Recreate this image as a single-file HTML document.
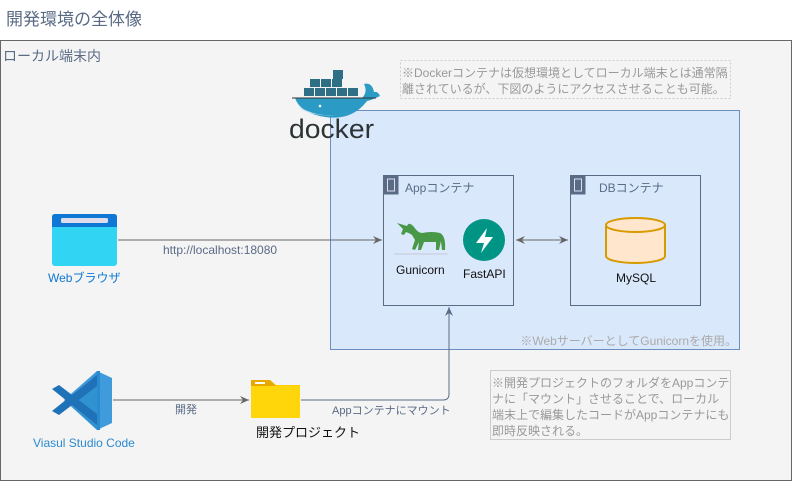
<!DOCTYPE html>
<html><head><meta charset="utf-8"><style>
html,body{margin:0;padding:0;background:#fff;}
svg{display:block;font-family:"Liberation Sans","Noto Sans CJK JP",sans-serif;}
</style></head><body>
<svg width="792" height="482" viewBox="0 0 792 482" xmlns="http://www.w3.org/2000/svg">
<defs>
<marker id="ar" markerWidth="10" markerHeight="10" refX="9" refY="5" orient="auto" markerUnits="userSpaceOnUse"><path d="M0,1 L9,5 L0,9 L3,5 Z" fill="#666"/></marker>
<marker id="arb" markerWidth="10" markerHeight="10" refX="9" refY="5" orient="auto" markerUnits="userSpaceOnUse"><path d="M0,1 L9,5 L0,9 L3,5 Z" fill="#5a6b86"/></marker>
<marker id="as" markerWidth="10" markerHeight="10" refX="1" refY="5" orient="auto" markerUnits="userSpaceOnUse"><path d="M10,1 L1,5 L10,9 L7,5 Z" fill="#666"/></marker>
</defs>
<text x="6" y="25" font-size="17" fill="#5a6b86">開発環境の全体像</text>
<rect x="0.5" y="40.5" width="791" height="440" fill="#f4f4f4" stroke="#666"/>
<text x="3" y="61" font-size="14" fill="#5a6b86">ローカル端末内</text>

<!-- docker area -->
<rect x="330.5" y="110.5" width="409" height="239" fill="#dae8fc" stroke="#6c8ebf"/>
<rect x="400.5" y="60.5" width="330" height="38" fill="none" stroke="#ccc" stroke-dasharray="2,2"/>
<text x="402" y="77" font-size="12" fill="#999">※Dockerコンテナは仮想環境としてローカル端末とは通常隔</text>
<text x="402" y="93" font-size="12" fill="#999">離されているが、下図のようにアクセスさせることも可能。</text>

<!-- docker logo -->
<g>
<rect x="333" y="70" width="10" height="9" fill="#2e6f86"/>
<rect x="310" y="79" width="10" height="8" fill="#2e6f86"/><rect x="321" y="79" width="10" height="8" fill="#2e6f86"/><rect x="332" y="79" width="10" height="8" fill="#2e6f86"/>
<rect x="304" y="88" width="10" height="8" fill="#2e6f86"/><rect x="315" y="88" width="10" height="8" fill="#2e6f86"/><rect x="326" y="88" width="10" height="8" fill="#2e6f86"/><rect x="337" y="88" width="10" height="8" fill="#2e6f86"/><rect x="348" y="88" width="10" height="8" fill="#2e6f86"/>
<path d="M295,98 L362,98 Q368,92 364,84 Q372,82 374,92 Q378,91 380,96 Q372,100 367,101 Q352,121 325,117 Q300,113 295,98 Z" fill="#2b9bc6"/>
<line x1="292" y1="98" x2="376" y2="98" stroke="#333" stroke-width="1"/>
<path d="M298,106 Q315,117 337,115 Q318,117 302,110 Z" fill="#c6e4ef"/>
<circle cx="320" cy="106" r="1.3" fill="#fff"/>
<text x="289" y="138" font-size="27" fill="#2d3436" textLength="85" lengthAdjust="spacingAndGlyphs">docker</text>
</g>

<!-- app container -->
<rect x="383.5" y="175.5" width="130" height="130" fill="none" stroke="#5a6b86"/>
<rect x="383.5" y="175.5" width="15" height="19" fill="#5a6b86"/>
<rect x="387.5" y="179" width="7" height="12" fill="none" stroke="#dde" stroke-width="1"/>
<text x="405" y="192" font-size="12" fill="#5a6b86">Appコンテナ</text>
<!-- gunicorn -->
<path d="M397,223 L407,226 Q409,221 414,227 Q418,233 422,233 Q432,231 440,233 Q446,236 445,250 L442,250 L441,241 L439,250 L436,250 L436,242 L424,242 L421,250 L418,250 L419,242 L415,250 L412,249 L415,240 L412,235 Q409,233 406,232 L404,235 L401,234 L403,229 Z" fill="#499848"/>
<rect x="394" y="253" width="54" height="2" fill="#ccd" opacity="0.6"/>
<text x="396" y="274" font-size="12" fill="#111">Gunicorn</text>
<!-- fastapi -->
<circle cx="484" cy="240" r="21" fill="#009485"/>
<path d="M487,228 L476,243 L484,243 L481,253 L493,237 L485,237 Z" fill="#fff"/>
<text x="463" y="278" font-size="12" fill="#111">FastAPI</text>

<!-- db container -->
<rect x="570.5" y="175.5" width="130" height="130" fill="none" stroke="#5a6b86"/>
<rect x="570.5" y="175.5" width="15" height="19" fill="#5a6b86"/>
<rect x="574.5" y="179" width="7" height="12" fill="none" stroke="#dde" stroke-width="1"/>
<text x="599" y="192" font-size="12" fill="#5a6b86">DBコンテナ</text>
<path d="M606,225 L606,256 A29.5,7 0 0 0 665,256 L665,225" fill="#ffe6cc" stroke="#d79b00" stroke-width="2"/>
<ellipse cx="635.5" cy="225" rx="29.5" ry="7" fill="#ffe6cc" stroke="#d79b00" stroke-width="2"/>
<text x="616" y="282" font-size="12" fill="#111">MySQL</text>

<line x1="516" y1="240" x2="568" y2="240" stroke="#666" marker-start="url(#as)" marker-end="url(#ar)"/>
<text x="737" y="345" font-size="12" fill="#aaa" text-anchor="end">※WebサーバーとしてGunicornを使用。</text>

<!-- browser -->
<rect x="52" y="214" width="65" height="52" rx="3" fill="#32d4f3"/>
<path d="M52,217 Q52,214 55,214 L114,214 Q117,214 117,217 L117,227 L52,227 Z" fill="#0f78d4"/>
<rect x="61" y="218" width="47" height="5" rx="1.5" fill="#dde"/>
<text x="48" y="282" font-size="12" fill="#0f78d4">Webブラウザ</text>
<line x1="118" y1="240" x2="382" y2="240" stroke="#666" marker-end="url(#ar)"/>
<text x="163" y="254" font-size="12" fill="#5a6b86">http://localhost:18080</text>

<!-- vscode -->
<path d="M97,371 L112,378 L112,423 L97,430 L64,400 Z" fill="#3f9bdb"/>
<path d="M97,371 L97,430 L73,407 Z" fill="#2489ca" opacity="0.5"/>
<path d="M52,389 L59,385 L97,414 L97,425 Z" fill="#1f72b8"/>
<path d="M52,411 L59,415 L97,386 L97,375 Z" fill="#1f72b8"/>
<rect x="97" y="371" width="3" height="59" fill="#2a8ad0"/>
<text x="33" y="447" font-size="12" fill="#2a8ad0">Viasul Studio Code</text>
<line x1="113" y1="400" x2="249" y2="400" stroke="#666" marker-end="url(#ar)"/>
<text x="175" y="413" font-size="11" fill="#5a6b86">開発</text>

<!-- folder -->
<path d="M251,382 Q251,380 253,380 L270,380 L276,385 L300,385 L300,418 L251,418 Z" fill="#ffcc00"/>
<path d="M251,386 L300,386 L300,418 L251,418 Z" fill="#ffd60a"/>
<path d="M251,380 L270,380 L276,386 L251,386 Z" fill="#e8a800"/>
<rect x="255" y="382" width="10" height="2" fill="#fff"/>
<text x="256" y="437" font-size="13" fill="#111">開発プロジェクト</text>

<path d="M301,400 L443,400 Q449,400 449,394 L449,307" fill="none" stroke="#5a6b86" marker-end="url(#arb)"/>
<text x="332" y="414" font-size="11" fill="#5a6b86">Appコンテナにマウント</text>

<rect x="490.5" y="370.5" width="240" height="69" fill="none" stroke="#ccc"/>
<text x="492" y="387" font-size="12" fill="#999">※開発プロジェクトのフォルダをAppコンテ</text>
<text x="492" y="403" font-size="12" fill="#999">ナに「マウント」させることで、ローカル</text>
<text x="492" y="419" font-size="12" fill="#999">端末上で編集したコードがAppコンテナにも</text>
<text x="492" y="435" font-size="12" fill="#999">即時反映される。</text>
</svg>
</body></html>
